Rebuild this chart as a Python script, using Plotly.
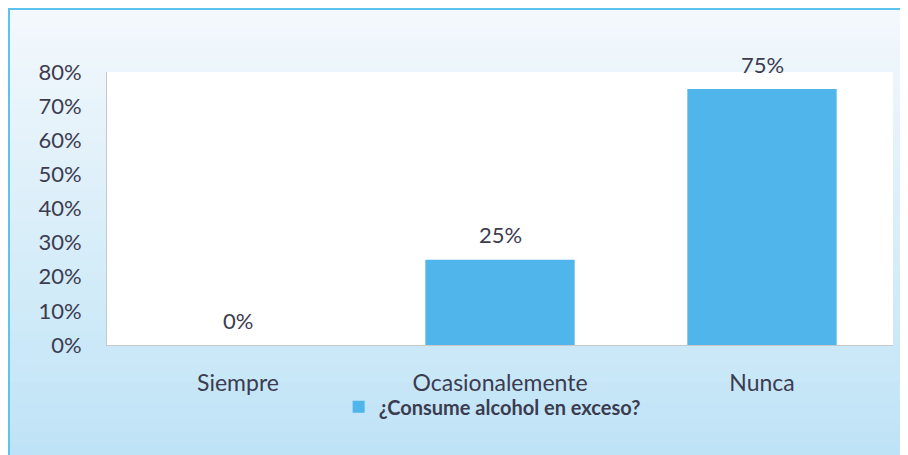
import plotly.graph_objects as go

categories = ["Siempre", "Ocasionalemente", "Nunca"]
values = [0.0, 0.25, 0.75]
series_name = "¿Consume alcohol en exceso?"
y_ticks = [0, 0.1, 0.2, 0.3, 0.4, 0.5, 0.6, 0.7, 0.8]
y_ticktext = ["0%", "10%", "20%", "30%", "40%", "50%", "60%", "70%", "80%"]

W, H = 908, 455
OFF = 8  # page body margin offset
ML, MR, MT, MB = 107 - OFF, 23, 72 - OFF, 118
PW, PH = W - ML - MR, H - MT - MB
font_family = "Lato, 'Open Sans', sans-serif"
text_color = "#3c3c50"
bar_color = "#4fb5ea"


def px_x(x):
    return (x - ML) / PW


def px_y(y):
    return (H - MB - y) / PH


fig = go.Figure()
fig.add_trace(go.Bar(
    x=categories, y=values, name=series_name,
    marker=dict(color=bar_color, line=dict(width=0)),
    width=0.57,
))

annotations = [
    dict(x=c, y=v, xref="x", yref="y", text=f"{v:.0%}", showarrow=False,
         yanchor="middle", yshift=25,
         font=dict(size=22, color=text_color, family=font_family))
    for c, v in zip(categories, values)
]

# vertical gradient background bands
shapes = []
n = 45
top_rgb = (243, 248, 252)
bot_rgb = (190, 227, 246)
for i in range(n):
    t = i / (n - 1)
    r = round(top_rgb[0] + (bot_rgb[0] - top_rgb[0]) * t)
    g = round(top_rgb[1] + (bot_rgb[1] - top_rgb[1]) * t)
    b = round(top_rgb[2] + (bot_rgb[2] - top_rgb[2]) * t)
    shapes.append(dict(
        type="rect", xref="paper", yref="paper", layer="below",
        x0=px_x(-2), x1=px_x(W + 2),
        y0=px_y(H * (i + 1) / n + 1), y1=px_y(H * i / n),
        fillcolor=f"rgb({r},{g},{b})", line=dict(width=0),
    ))
# plot area white
shapes.append(dict(type="rect", xref="paper", yref="paper", layer="below",
                   x0=0, x1=1, y0=0, y1=1, fillcolor="white", line=dict(width=0)))
# outer border (left and top visible)
shapes.append(dict(type="rect", xref="paper", yref="paper", layer="above",
                   x0=px_x(1), x1=px_x(W + 20),
                   y0=px_y(H + 20), y1=px_y(1),
                   fillcolor="rgba(0,0,0,0)", line=dict(color="#5cc3ef", width=2)))

fig.update_layout(
    width=W, height=H,
    margin=dict(l=ML, r=MR, t=MT, b=MB, autoexpand=False),
    paper_bgcolor="#eaf5fb", plot_bgcolor="rgba(0,0,0,0)",
    font=dict(family=font_family, size=22, color=text_color),
    shapes=shapes,
    annotations=annotations,
    showlegend=True,
    legend=dict(orientation="h", x=0.49, xanchor="center", y=-0.155, yanchor="top",
                font=dict(size=20, color=text_color, family=font_family, weight="bold"),
                bgcolor="rgba(0,0,0,0)", itemwidth=30),
)
fig.update_xaxes(showgrid=False, showline=True, linecolor="#c8c8c8", linewidth=1,
                 ticks="", ticklabelstandoff=17, tickfont=dict(size=23, color=text_color))
fig.update_yaxes(range=[0, 0.8], tickvals=y_ticks, ticktext=y_ticktext,
                 showgrid=False, showline=True, linecolor="#c8c8c8", linewidth=1,
                 ticks="", ticklabelstandoff=20, zeroline=False,
                 tickfont=dict(size=22, color=text_color))

fig.write_html("out.html")
